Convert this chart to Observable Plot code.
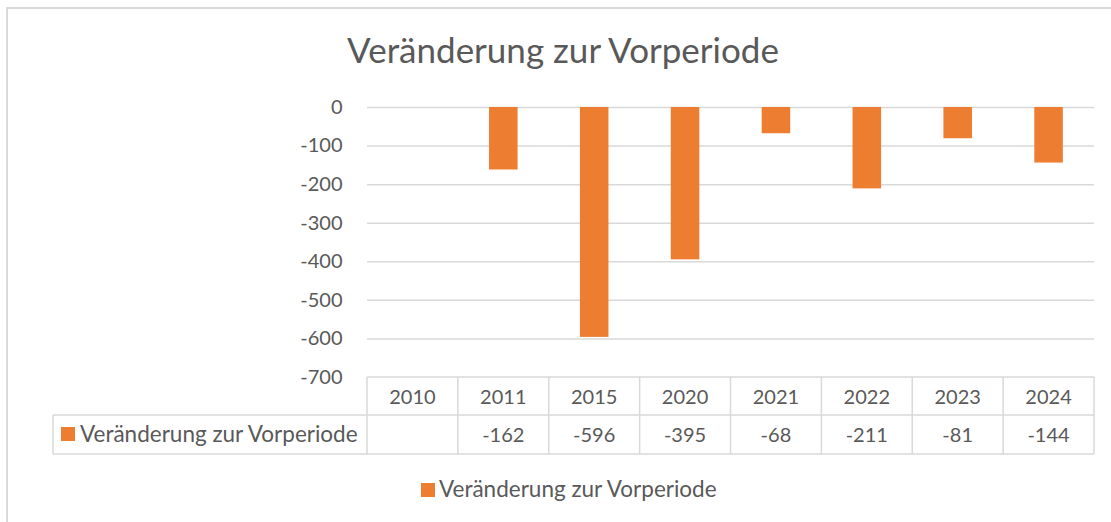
<!DOCTYPE html>
<html><head><meta charset="utf-8">
<script src="https://cdn.jsdelivr.net/npm/d3@7"></script>
<script src="https://cdn.jsdelivr.net/npm/@observablehq/plot@0.6"></script>
<style>html,body{margin:0;padding:0;background:#fff;overflow:hidden} svg{display:block}</style>
</head><body><div id="chart"></div>
<script>
// ---- data ----
const years = ["2010", "2011", "2015", "2020", "2021", "2022", "2023", "2024"];
const values = [null, -162, -596, -395, -68, -211, -81, -144];
const yTicks = [0, -100, -200, -300, -400, -500, -600, -700];
const seriesName = "Veränderung zur Vorperiode";
const chartTitle = "Veränderung zur Vorperiode";

// ---- styles ----
const FONT = "Lato, 'Open Sans', sans-serif";
const TXT = "#595959", GRID = "#d9d9d9", ORANGE = "#ED7D31";
const FS = 20, FS_LABEL = 22.5, FS_TITLE = 35;

const data = years.map((year, i) => ({year, value: values[i]}));

const plot = Plot.plot({
  width: 1111, height: 522,
  marginLeft: 367, marginRight: 17, marginTop: 107, marginBottom: 145,
  style: {fontFamily: FONT, fontSize: FS + "px", color: TXT, background: "white", overflow: "visible"},
  x: {domain: years, paddingInner: 0.686, paddingOuter: 0.343, round: false, axis: null},
  y: {domain: [-700, 0], axis: null},
  marks: [
    Plot.gridY(yTicks.slice(0, -1), {stroke: GRID, strokeOpacity: 1, strokeWidth: 1.5}),
    Plot.axisY(yTicks, {tickSize: 0, tickPadding: 25, label: null, fill: TXT, fontSize: FS, tickFormat: d => String(d)}),
    Plot.barY(data.filter(d => d.value != null), {x: "year", y: "value", fill: ORANGE})
  ]
});

const svg = d3.select(plot);
const sx = plot.scale("x"), sy = plot.scale("y");
const step = sx.step, bw = sx.bandwidth;
const colLeft = y => sx.apply(y) - (step - bw) / 2;
const colCenter = y => sx.apply(y) + bw / 2;
const xStart = colLeft(years[0]);
const xEnd = colLeft(years[years.length - 1]) + step;
const yTop = sy.apply(-700);
const yMid = yTop + 38;
const yBot = yMid + 39;
const labelLeft = 53;

// outer chart border
svg.insert("rect", ":first-child")
  .attr("x", 7).attr("y", 8).attr("width", 1130).attr("height", 540)
  .attr("fill", "white").attr("stroke", GRID).attr("stroke-width", 2);

const g = svg.append("g").attr("stroke", GRID).attr("stroke-width", 1.5).attr("fill", "none");
g.append("line").attr("x1", xStart).attr("x2", xEnd).attr("y1", yTop).attr("y2", yTop);
g.append("line").attr("x1", labelLeft).attr("x2", xEnd).attr("y1", yMid).attr("y2", yMid);
g.append("line").attr("x1", labelLeft).attr("x2", xEnd).attr("y1", yBot).attr("y2", yBot);
g.append("line").attr("x1", labelLeft).attr("x2", labelLeft).attr("y1", yMid).attr("y2", yBot);
years.forEach(y => {
  const xl = colLeft(y);
  g.append("line").attr("x1", xl).attr("x2", xl).attr("y1", yTop).attr("y2", yBot);
});
g.append("line").attr("x1", xEnd).attr("x2", xEnd).attr("y1", yTop).attr("y2", yBot);

const t = svg.append("g").attr("fill", TXT).attr("font-family", FONT).attr("font-size", FS);
years.forEach((y, i) => {
  t.append("text").attr("x", colCenter(y)).attr("y", yTop + 27).attr("text-anchor", "middle").text(y);
  if (values[i] != null)
    t.append("text").attr("x", colCenter(y)).attr("y", yMid + 27).attr("text-anchor", "middle").text(String(values[i]));
});
// row label
svg.append("rect").attr("x", 61).attr("y", yMid + 12).attr("width", 14).attr("height", 14).attr("fill", ORANGE);
t.append("text").attr("x", 80).attr("y", yMid + 27).attr("text-anchor", "start")
  .attr("font-size", FS_LABEL).text(seriesName);

// legend
svg.append("rect").attr("x", 421).attr("y", 483).attr("width", 14).attr("height", 14).attr("fill", ORANGE);
t.append("text").attr("x", 439).attr("y", 497).attr("text-anchor", "start")
  .attr("font-size", FS_LABEL).text(seriesName);

// title
svg.append("text").attr("x", 563).attr("y", 63).attr("text-anchor", "middle")
  .attr("font-family", FONT).attr("font-size", FS_TITLE).attr("fill", TXT).text(chartTitle);

document.getElementById("chart").appendChild(plot);
</script>
</body></html>
